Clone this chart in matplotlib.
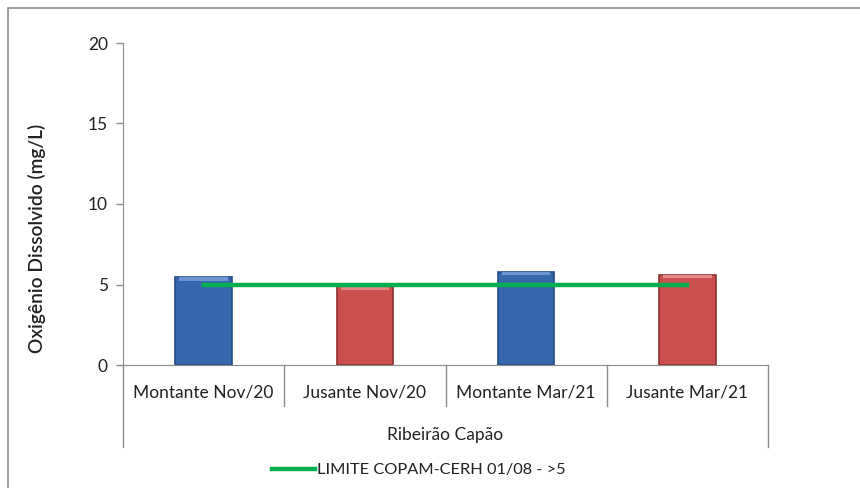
import matplotlib.pyplot as plt
from matplotlib.lines import Line2D
from matplotlib.patches import Rectangle

plt.rcParams['font.family'] = ['Lato', 'DejaVu Sans']

categorias = ["Montante Nov/20", "Jusante Nov/20", "Montante Mar/21", "Jusante Mar/21"]
grupo = "Ribeirão Capão"
od = [5.45, 4.9, 5.8, 5.6]
limite = [5, 5, 5, 5]
limite_label = "LIMITE COPAM-CERH 01/08 - >5"
yticks = [0, 5, 10, 15, 20]

azul, azul_borda, azul_topo = "#3767AD", "#244C85", "#6C97D3"
verm, verm_borda, verm_topo = "#C9504E", "#8C302E", "#E58886"
cores = [azul, verm, azul, verm]
bordas = [azul_borda, verm_borda, azul_borda, verm_borda]
topos = [azul_topo, verm_topo, azul_topo, verm_topo]
cinza = "#8C8C8C"

fig = plt.figure(figsize=(8.6, 4.88), dpi=100)
ax = fig.add_axes([123 / 860, 1 - 365 / 488, 645 / 860, 322 / 488])

x = [i + 0.5 for i in range(len(categorias))]
ax.bar(x, od, width=0.35, color=cores, edgecolor=bordas, linewidth=1.2, zorder=2)
# faixa clara no topo de cada barra (efeito de chanfro)
ax.bar(x, [0.22] * len(od), bottom=[v - 0.22 for v in od], width=0.3,
       color=topos, linewidth=0, zorder=3)

ax.plot(x, limite, color="#00B050", linewidth=3.2, label=limite_label, zorder=4)

ax.set_xlim(0, len(categorias))
ax.set_ylim(0, 20)
ax.set_yticks(yticks)
ax.set_xticks([])
ax.tick_params(axis='y', length=5, width=1, color=cinza, labelsize=12.5, pad=6,
               labelcolor="#222222")
for s in ["top", "right"]:
    ax.spines[s].set_visible(False)
ax.spines["left"].set_color(cinza)
ax.spines["bottom"].set_color(cinza)

ax.set_ylabel("Oxigênio Dissolvido (mg/L)", fontsize=13.8, fontweight="semibold",
              color="#222222")
ax.yaxis.set_label_coords(-77 / 645, (365 - 238) / 322)

# eixo de categorias em dois niveis
trans = ax.get_xaxis_transform()
ax.add_line(Line2D([0, 0], [0, -0.255], transform=trans, color=cinza, lw=1, clip_on=False))
ax.add_line(Line2D([4, 4], [0, -0.255], transform=trans, color=cinza, lw=1, clip_on=False))
for d in [1, 2, 3]:
    ax.add_line(Line2D([d, d], [0, -0.127], transform=trans, color=cinza, lw=1, clip_on=False))
for xi, c in zip(x, categorias):
    ax.text(xi, -0.085, c, transform=trans, ha="center", va="center",
            fontsize=12.5, color="#222222")
ax.text(2, -0.218, grupo, transform=trans, ha="center", va="center",
        fontsize=12.5, color="#222222")

leg = fig.legend(loc="center", bbox_to_anchor=(0.487, 1 - 470 / 488), frameon=False,
                 fontsize=11.8, handlelength=2.6, handletextpad=0.15)
for t in leg.get_texts():
    t.set_color("#222222")

# moldura da area do grafico
fig.patches.append(Rectangle((8 / 860, -0.05), 1.0, 1 - 8 / 488 + 0.05,
                             transform=fig.transFigure, fill=False,
                             edgecolor=cinza, linewidth=1.2))

fig.savefig("out.png", dpi=100)
